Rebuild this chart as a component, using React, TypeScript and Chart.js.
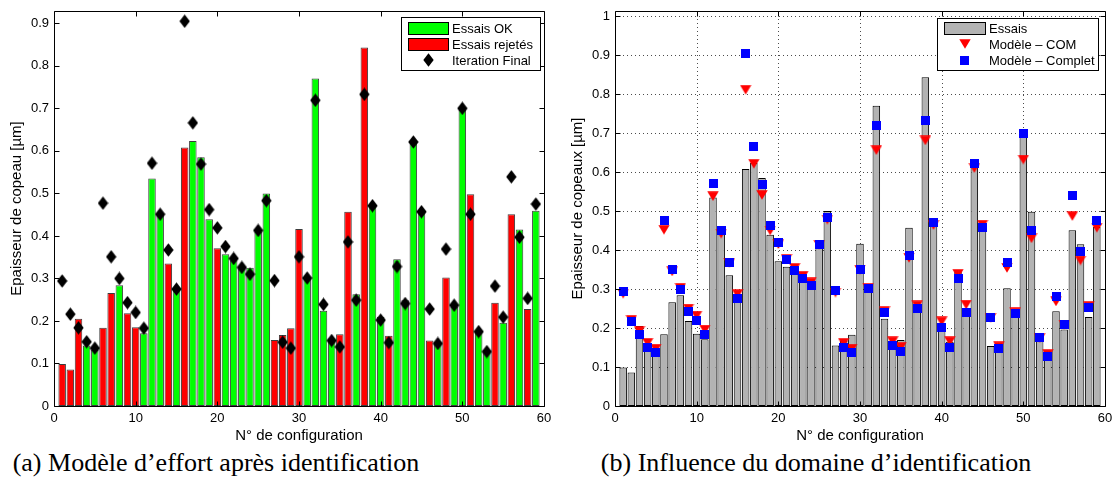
import React, { useEffect, useRef } from 'react';
import { Chart, registerables } from 'chart.js';

Chart.register(...registerables);

// ---------- data ----------
const essais = [
  0.099, 0.086, 0.205, 0.142, 0.132, 0.184, 0.266, 0.284, 0.218, 0.185,
  0.171, 0.535, 0.450, 0.335, 0.273, 0.608, 0.623, 0.585, 0.439, 0.371,
  0.357, 0.343, 0.324, 0.325, 0.410, 0.500, 0.155, 0.167, 0.183, 0.416,
  0.303, 0.770, 0.224, 0.159, 0.169, 0.457, 0.263, 0.843, 0.473, 0.210,
  0.165, 0.345, 0.249, 0.625, 0.461, 0.154, 0.151, 0.302, 0.234, 0.696,
  0.498, 0.176, 0.132, 0.243, 0.196, 0.451, 0.415, 0.228, 0.459,
];
// 1 = essai OK, 0 = essai rejeté
const accepted = [
  0, 0, 0, 1, 1, 0, 0, 1, 0, 0,
  1, 1, 1, 0, 1, 0, 1, 1, 1, 0,
  1, 1, 1, 1, 1, 1, 0, 0, 0, 0,
  1, 1, 1, 1, 0, 0, 1, 0, 1, 1,
  0, 1, 1, 1, 1, 0, 1, 0, 1, 1,
  0, 1, 1, 0, 1, 0, 1, 0, 1,
];
const iterationFinal = [
  0.294, 0.216, 0.184, 0.151, 0.136, 0.477, 0.351, 0.300, 0.243, 0.220,
  0.183, 0.571, 0.451, 0.367, 0.275, 0.905, 0.666, 0.569, 0.462, 0.419,
  0.375, 0.347, 0.326, 0.310, 0.413, 0.483, 0.295, 0.150, 0.136, 0.351,
  0.301, 0.719, 0.239, 0.154, 0.139, 0.386, 0.249, 0.733, 0.471, 0.202,
  0.149, 0.328, 0.241, 0.621, 0.457, 0.228, 0.147, 0.369, 0.237, 0.700,
  0.451, 0.175, 0.128, 0.282, 0.209, 0.539, 0.397, 0.253, 0.475,
];
const modeleCOM = [
  0.288, 0.221, 0.193, 0.162, 0.147, 0.452, 0.345, 0.303, 0.250, 0.232,
  0.196, 0.538, 0.442, 0.367, 0.287, 0.811, 0.621, 0.541, 0.450, 0.415,
  0.377, 0.354, 0.334, 0.317, 0.413, 0.478, 0.291, 0.162, 0.147, 0.349,
  0.303, 0.656, 0.243, 0.166, 0.151, 0.380, 0.258, 0.681, 0.464, 0.217,
  0.166, 0.339, 0.260, 0.610, 0.465, 0.226, 0.153, 0.354, 0.240, 0.632,
  0.430, 0.174, 0.133, 0.268, 0.209, 0.487, 0.373, 0.256, 0.457,
];
const xTickValues = [0, 10, 20, 30, 40, 50, 60];
const yTicksA = [0, 0.1, 0.2, 0.3, 0.4, 0.5, 0.6, 0.7, 0.8, 0.9];
const yTicksB = [0, 0.1, 0.2, 0.3, 0.4, 0.5, 0.6, 0.7, 0.8, 0.9, 1];
const xTitle = 'N° de configuration';
const yTitleA = 'Epaisseur de copeau [µm]';
const yTitleB = 'Epaisseur de copeaux [µm]';
const legendA = ['Essais OK', 'Essais rejetés', 'Iteration Final'];
const legendB = ['Essais', 'Modèle – COM', 'Modèle – Complet'];
const captionA = '(a) Modèle d’effort après identification';
const captionB = '(b) Influence du domaine d’identification';

// ---------- styles ----------
const SANS = '"Liberation Sans", Arial, Helvetica, sans-serif';
const GREEN = '#00ff00';
const RED = '#ff0000';
const GRAY = '#b3b3b3';
const BLUE = '#0000ff';

function makeMarker(kind: 'diamond' | 'triangle' | 'square'): HTMLCanvasElement {
  const c = document.createElement('canvas');
  const ctx = c.getContext('2d') as CanvasRenderingContext2D;
  if (kind === 'diamond') {
    c.width = 11; c.height = 14;
    ctx.fillStyle = '#000';
    ctx.beginPath();
    ctx.moveTo(5.5, 0.3); ctx.lineTo(10.7, 7); ctx.lineTo(5.5, 13.7); ctx.lineTo(0.3, 7);
    ctx.closePath(); ctx.fill();
  } else if (kind === 'triangle') {
    c.width = 12; c.height = 10;
    ctx.fillStyle = RED;
    ctx.beginPath();
    ctx.moveTo(0.3, 0.3); ctx.lineTo(11.7, 0.3); ctx.lineTo(6, 9.8);
    ctx.closePath(); ctx.fill();
  } else {
    c.width = 9; c.height = 9;
    ctx.fillStyle = BLUE;
    ctx.fillRect(0, 0, 9, 9);
  }
  return c;
}

const framePlugin = {
  id: 'frame',
  beforeDatasetsDraw(chart: any, _a: any, opts: any) {
    if (!opts.grid) return;
    const { ctx, chartArea: a, scales } = chart;
    const x = scales.x, y = scales.y;
    ctx.save();
    ctx.strokeStyle = 'rgba(0,0,0,0.7)';
    ctx.lineWidth = 1;
    ctx.setLineDash([1, 3]);
    ctx.beginPath();
    for (const t of y.ticks) {
      const py = Math.round(y.getPixelForValue(t.value)) + 0.5;
      if (py >= a.bottom - 2 || py <= a.top + 2) continue;
      ctx.moveTo(a.left, py); ctx.lineTo(a.right, py);
    }
    for (const t of x.ticks) {
      const px = Math.round(x.getPixelForValue(t.value)) + 0.5;
      if (px <= a.left + 2 || px >= a.right - 2) continue;
      ctx.moveTo(px, a.top); ctx.lineTo(px, a.bottom);
    }
    ctx.stroke();
    ctx.restore();
  },
  afterDatasetsDraw(chart: any) {
    const { ctx, chartArea: a, scales } = chart;
    const x = scales.x, y = scales.y;
    const L = Math.round(a.left) + 0.5, R = Math.round(a.right) + 0.5;
    const T = Math.round(a.top) + 0.5, B = Math.round(a.bottom) + 0.5;
    const tl = 5;
    ctx.save();
    ctx.strokeStyle = '#000';
    ctx.lineWidth = 1;
    ctx.beginPath();
    ctx.rect(L, T, R - L, B - T);
    for (const t of y.ticks) {
      const py = Math.round(y.getPixelForValue(t.value)) + 0.5;
      ctx.moveTo(L, py); ctx.lineTo(L + tl, py);
      ctx.moveTo(R, py); ctx.lineTo(R - tl, py);
    }
    for (const t of x.ticks) {
      const px = Math.round(x.getPixelForValue(t.value)) + 0.5;
      ctx.moveTo(px, B); ctx.lineTo(px, B - tl);
      ctx.moveTo(px, T); ctx.lineTo(px, T + tl);
    }
    ctx.stroke();
    ctx.restore();
  },
  afterDraw(chart: any, _a: any, opts: any) {
    const lg = opts.legend;
    if (!lg) return;
    const { ctx } = chart;
    ctx.save();
    const [bx, by, bw, bh] = lg.box;
    ctx.fillStyle = '#fff';
    ctx.fillRect(bx, by, bw, bh);
    ctx.strokeStyle = '#000';
    ctx.lineWidth = 1;
    ctx.strokeRect(bx + 0.5, by + 0.5, bw, bh);
    lg.items.forEach((it: any, i: number) => {
      const cy = lg.rows[i];
      if (it.kind === 'rect') {
        ctx.fillStyle = it.fill;
        ctx.fillRect(lg.swatch[0], cy - 6, lg.swatch[1] - lg.swatch[0], 12);
        ctx.strokeStyle = it.stroke;
        ctx.strokeRect(lg.swatch[0] + 0.5, cy - 5.5, lg.swatch[1] - lg.swatch[0], 12);
      } else {
        const img = it.img as HTMLCanvasElement;
        const mx = (lg.swatch[0] + lg.swatch[1]) / 2;
        ctx.drawImage(img, Math.round(mx - img.width / 2), Math.round(cy - img.height / 2));
      }
      ctx.fillStyle = '#000';
      ctx.font = `13px ${SANS}`;
      ctx.textBaseline = 'middle';
      ctx.textAlign = 'left';
      ctx.fillText(it.label, lg.textX, cy + 1);
    });
    ctx.restore();
  },
};

function axes(yMax: number, yTicks: number[], yTitle: string, yWidth: number, titlePad: number) {
  return {
    x: {
      type: 'linear',
      min: 0,
      max: 60,
      offset: false,
      grid: { display: false, drawTicks: false, offset: false },
      border: { display: false },
      afterBuildTicks: (s: any) => { s.ticks = xTickValues.map((v) => ({ value: v })); },
      afterFit: (s: any) => { s.height = 39; s.paddingLeft = 0; s.paddingRight = 0; },
      ticks: {
        padding: 5,
        color: '#000',
        autoSkip: false,
        maxRotation: 0,
        font: { family: SANS, size: 13 },
        callback: (v: any) => String(v),
      },
      title: {
        display: true,
        text: xTitle,
        color: '#000',
        font: { family: SANS, size: 15 },
        padding: { top: 0, bottom: 0 },
      },
    },
    y: {
      type: 'linear',
      min: 0,
      max: yMax,
      grid: { display: false, drawTicks: false },
      border: { display: false },
      afterBuildTicks: (s: any) => { s.ticks = yTicks.map((v) => ({ value: v })); },
      afterFit: (s: any) => { s.width = yWidth; s.paddingTop = 0; s.paddingBottom = 0; },
      ticks: {
        padding: 5,
        color: '#000',
        autoSkip: false,
        font: { family: SANS, size: 13 },
        callback: (v: any) => String(Math.round(Number(v) * 10) / 10),
      },
      title: {
        display: true,
        text: yTitle,
        color: '#000',
        font: { family: SANS, size: 15 },
        padding: { top: titlePad, bottom: 0 },
      },
    },
  };
}

export default function App() {
  const refA = useRef<HTMLCanvasElement>(null);
  const refB = useRef<HTMLCanvasElement>(null);

  useEffect(() => {
    const diamond = makeMarker('diamond');
    const triangle = makeMarker('triangle');
    const square = makeMarker('square');

    const barCommon = {
      type: 'bar',
      grouped: false,
      barPercentage: 0.92,
      categoryPercentage: 1,
      borderWidth: 1,
      borderSkipped: false,
    };

    const chartA = new Chart(refA.current as HTMLCanvasElement, {
      type: 'bar',
      data: {
        datasets: [
          {
            ...barCommon,
            label: legendA[0],
            order: 2,
            data: essais.map((v, i) => ({ x: i + 1, y: accepted[i] ? v : null })),
            backgroundColor: GREEN,
            borderColor: '#3c3c3c',
          },
          {
            ...barCommon,
            label: legendA[1],
            order: 2,
            data: essais.map((v, i) => ({ x: i + 1, y: accepted[i] ? null : v })),
            backgroundColor: RED,
            borderColor: '#3c3c3c',
          },
          {
            type: 'line',
            label: legendA[2],
            order: 0,
            showLine: false,
            data: iterationFinal.map((v, i) => ({ x: i + 1, y: v })),
            pointStyle: diamond,
            pointRadius: 6,
          },
        ],
      } as any,
      options: {
        responsive: false,
        animation: false,
        events: [],
        layout: { padding: { left: 0, top: 11, right: 16, bottom: 0 } },
        plugins: {
          legend: { display: false },
          tooltip: { enabled: false },
          frame: {
            grid: false,
            legend: {
              box: [401, 17, 139, 53],
              swatch: [408, 448],
              textX: 452,
              rows: [28, 44, 60],
              items: [
                { label: legendA[0], kind: 'rect', fill: GREEN, stroke: '#000' },
                { label: legendA[1], kind: 'rect', fill: RED, stroke: '#000' },
                { label: legendA[2], kind: 'img', img: diamond },
              ],
            },
          },
        },
        scales: axes(0.929, yTicksA, yTitleA, 54, 8),
      } as any,
      plugins: [framePlugin],
    });

    const chartB = new Chart(refB.current as HTMLCanvasElement, {
      type: 'bar',
      data: {
        datasets: [
          {
            ...barCommon,
            label: legendB[0],
            order: 3,
            data: essais.map((v, i) => ({ x: i + 1, y: v })),
            backgroundColor: GRAY,
            borderColor: '#000',
          },
          {
            type: 'line',
            label: legendB[1],
            order: 1,
            showLine: false,
            data: modeleCOM.map((v, i) => ({ x: i + 1, y: v })),
            pointStyle: triangle,
            pointRadius: 6,
          },
          {
            type: 'line',
            label: legendB[2],
            order: 0,
            showLine: false,
            data: iterationFinal.map((v, i) => ({ x: i + 1, y: v })),
            pointStyle: square,
            pointRadius: 5,
          },
        ],
      } as any,
      options: {
        responsive: false,
        animation: false,
        events: [],
        layout: { padding: { left: 0, top: 11, right: 11, bottom: 0 } },
        plugins: {
          legend: { display: false },
          tooltip: { enabled: false },
          frame: {
            grid: true,
            legend: {
              box: [377, 18, 161, 52],
              swatch: [384, 425],
              textX: 429,
              rows: [28, 44, 60],
              items: [
                { label: legendB[0], kind: 'rect', fill: GRAY, stroke: '#000' },
                { label: legendB[1], kind: 'img', img: triangle },
                { label: legendB[2], kind: 'img', img: square },
              ],
            },
          },
        },
        scales: axes(1.013, yTicksB, yTitleB, 55, 9),
      } as any,
      plugins: [framePlugin],
    });

    return () => {
      chartA.destroy();
      chartB.destroy();
    };
  }, []);

  const captionStyle: React.CSSProperties = {
    position: 'absolute',
    top: 447,
    width: 560,
    textAlign: 'center',
    fontFamily: '"Liberation Serif", "DejaVu Serif", serif',
    fontSize: 26,
    lineHeight: '32px',
    color: '#000',
    whiteSpace: 'nowrap',
  };

  return (
    <div style={{ position: 'absolute', left: 0, top: 0, width: 1116, height: 489, background: '#fff', overflow: 'hidden' }}>
      <canvas ref={refA} width={560} height={445} style={{ position: 'absolute', left: 0, top: 0 }} />
      <canvas ref={refB} width={556} height={445} style={{ position: 'absolute', left: 560, top: 0 }} />
      <div style={{ ...captionStyle, left: 216 - 280 }}>{captionA}</div>
      <div style={{ ...captionStyle, left: 816 - 280 }}>{captionB}</div>
    </div>
  );
}
